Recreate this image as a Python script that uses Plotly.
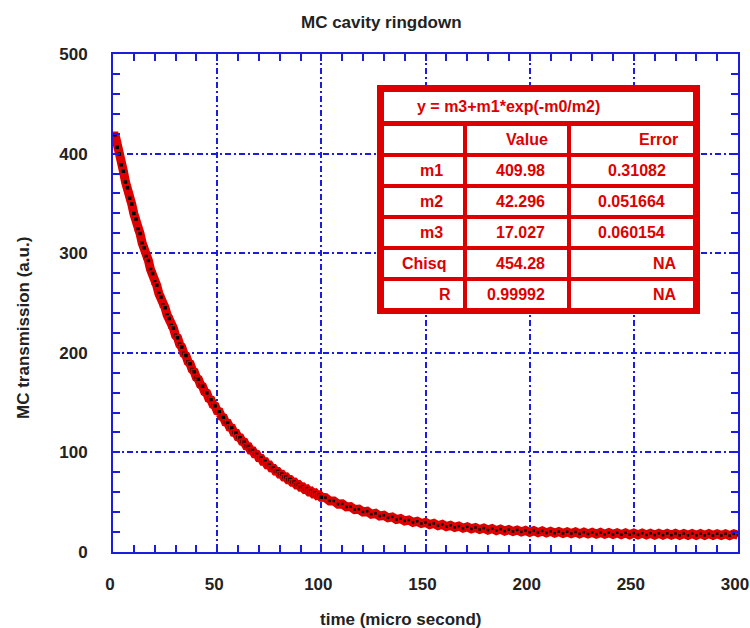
import plotly.graph_objects as go

# ---------------- data ----------------
time_us = list(range(1, 101)) + list(range(102, 301, 2))
signal = [
    418.9, 406.5, 399.6, 388.7, 382.4, 371.5, 365.8, 355.2, 349.3, 339.8,
    334.4, 324.6, 319.7, 310.2, 305.5, 296.8, 292.6, 283.7, 279.5, 271.4,
    267.8, 259.6, 256.0, 248.3, 245.2, 237.9, 234.5, 227.4, 224.7, 217.6,
    215.1, 208.5, 205.8, 199.3, 197.2, 191.0, 189.1, 183.2, 181.0, 175.1,
    173.5, 168.0, 166.3, 160.8, 159.6, 154.1, 152.9, 147.9, 146.7, 141.6,
    140.9, 136.0, 135.0, 130.3, 129.6, 125.2, 124.5, 120.0, 119.6, 115.4,
    114.8, 110.9, 110.3, 106.4, 106.0, 102.3, 101.9, 98.4, 98.0, 94.6,
    94.3, 91.0, 90.8, 87.5, 87.4, 84.3, 84.1, 81.1, 81.0, 78.2,
    78.1, 75.3, 75.4, 72.6, 72.7, 70.1, 70.2, 67.5, 67.8, 65.2,
    65.4, 62.9, 63.3, 60.7, 61.1, 58.7, 59.2, 56.8, 57.3, 54.9,
    54.6, 51.3, 51.2, 48.1, 48.3, 45.2, 45.6, 42.6, 43.0, 40.2,
    40.9, 38.0, 38.8, 36.1, 36.9, 34.3, 35.2, 32.6, 33.6, 31.2,
    32.1, 29.8, 30.9, 28.6, 29.8, 27.5, 28.7, 26.4, 27.7, 25.5,
    26.8, 24.7, 26.0, 23.9, 25.3, 23.2, 24.6, 22.6, 24.0, 22.0,
    23.5, 21.4, 23.0, 21.0, 22.5, 20.6, 22.1, 20.2, 21.7, 19.8,
    21.4, 19.5, 21.1, 19.2, 20.8, 18.9, 20.5, 18.7, 20.3, 18.5,
    20.1, 18.2, 19.9, 18.1, 19.7, 17.9, 19.6, 17.8, 19.4, 17.6,
    19.3, 17.5, 19.2, 17.3, 19.0, 17.2, 18.9, 17.1, 18.8, 17.0,
    18.7, 17.0, 18.7, 16.9, 18.6, 16.8, 18.5, 16.8, 18.5, 16.7,
    18.4, 16.7, 18.4, 16.6, 18.3, 16.6, 18.3, 16.5, 18.2, 16.8,
]

fit_formula = "y = m3+m1*exp(-m0/m2)"
table_header = ["", "Value", "Error"]
param_names = ["m1", "m2", "m3", "Chisq", "R"]
param_values = ["409.98", "42.296", "17.027", "454.28", "0.99992"]
param_errors = ["0.31082", "0.051664", "0.060154", "NA", "NA"]

title_text = "MC cavity ringdown"
x_title = "time (micro second)"
y_title = "MC transmission (a.u.)"
x_ticks = [0, 50, 100, 150, 200, 250, 300]
y_ticks = [0, 100, 200, 300, 400, 500]

# ---------------- style ----------------
W, H = 750, 628
L, R, T, B = 113, 12, 54, 76
PW, PH = W - L - R, H - T - B
BLUE = "#1c1ce0"
RED = "#dd0000"
FONT = "Liberation Sans"
N_STEEP = 100  # index split: densely sampled steep part vs. tail


def px(xp):
    return (xp - L) / PW


def py(yp):
    return (H - B - yp) / PH


fig = go.Figure()
fig.add_trace(go.Scatter(
    x=time_us, y=signal, mode="lines",
    line=dict(color=RED, width=9), hoverinfo="skip", showlegend=False))
fig.add_trace(go.Scatter(
    x=time_us[:N_STEEP], y=signal[:N_STEEP], mode="markers",
    marker=dict(symbol="square", size=5, color="black",
                line=dict(color=RED, width=1.5)),
    showlegend=False))
fig.add_trace(go.Scatter(
    x=time_us[N_STEEP:], y=signal[N_STEEP:], mode="markers",
    marker=dict(symbol="square", size=2.5, color="black", line=dict(width=0)),
    showlegend=False))

axis_common = dict(
    showline=True, linecolor=BLUE, linewidth=2, mirror="ticks",
    ticks="inside", ticklen=7, tickwidth=1.5, tickcolor=BLUE,
    showgrid=True, gridcolor=BLUE, gridwidth=1.5, griddash="6px,3px,2px,3px",
    zeroline=False, ticklabeloverflow="allow", automargin=False,
    tickfont=dict(family=FONT, size=17, color="#222222", weight="bold"),
)

fig.update_xaxes(range=[0, 300], tickvals=x_ticks, ticklabelstandoff=16,
                 ticklabelshift=-3,
                 minor=dict(dtick=10, ticks="inside", ticklen=7, tickcolor=BLUE,
                            tickwidth=1.5, showgrid=False),
                 **axis_common)
fig.update_yaxes(range=[0, 500], tickvals=y_ticks, ticklabelstandoff=20,
                 minor=dict(dtick=20, ticks="inside", ticklen=7, tickcolor=BLUE,
                            tickwidth=1.5, showgrid=False),
                 **axis_common)

shapes = []
annotations = []

# fit-result table
shapes.append(dict(type="rect", xref="paper", yref="paper",
                   x0=px(377), x1=px(700), y0=py(314), y1=py(85),
                   fillcolor=RED, line=dict(width=0), layer="above"))
shapes.append(dict(type="rect", xref="paper", yref="paper",
                   x0=px(384), x1=px(693), y0=py(121), y1=py(92),
                   fillcolor="white", line=dict(width=0), layer="above"))
col_edges = [(384, 463), (467, 567), (571, 693)]
row_tops = [126, 157, 188, 219, 250, 281]
row_h = 27
for rt in row_tops:
    for c0, c1 in col_edges:
        shapes.append(dict(type="rect", xref="paper", yref="paper",
                           x0=px(c0), x1=px(c1), y0=py(rt + row_h), y1=py(rt),
                           fillcolor="white", line=dict(width=0), layer="above"))

tfont = dict(family=FONT, size=16, color=RED, weight="bold")
annotations.append(dict(text=fit_formula, xref="paper", yref="paper",
                        x=px(415), y=py(106.5), xanchor="left", yanchor="middle",
                        showarrow=False, font=tfont))

header_right = [None, 550, 680]
name_right = [445, 445, 445, 448, 453]
val_right = [547, 547, 547, 547, 547]
err_right = [668, 667, 667, 679, 679]

for j, txt in enumerate(table_header):
    if txt:
        annotations.append(dict(text=txt, xref="paper", yref="paper",
                                x=px(header_right[j]), y=py(row_tops[0] + row_h / 2),
                                xanchor="right", yanchor="middle",
                                showarrow=False, font=tfont))
for i in range(len(param_names)):
    yc = py(row_tops[i + 1] + row_h / 2)
    for txt, xr in ((param_names[i], name_right[i]),
                    (param_values[i], val_right[i]),
                    (param_errors[i], err_right[i])):
        annotations.append(dict(text=txt, xref="paper", yref="paper",
                                x=px(xr), y=yc, xanchor="right", yanchor="middle",
                                showarrow=False, font=tfont))

# titles
lfont = dict(family=FONT, size=17, color="#222222", weight="bold")
annotations.append(dict(text=title_text, xref="paper", yref="paper",
                        x=px(381), y=py(22), xanchor="center", yanchor="middle",
                        showarrow=False, font=lfont))
annotations.append(dict(text=x_title, xref="paper", yref="paper",
                        x=px(401), y=py(619), xanchor="center", yanchor="middle",
                        showarrow=False, font=lfont))
annotations.append(dict(text=y_title, xref="paper", yref="paper",
                        x=px(23), y=py(328), xanchor="center", yanchor="middle",
                        textangle=-90, showarrow=False, font=lfont))

fig.update_layout(
    width=W, height=H,
    margin=dict(l=L, r=R, t=T, b=B, autoexpand=False),
    paper_bgcolor="white", plot_bgcolor="white",
    shapes=shapes, annotations=annotations,
    showlegend=False,
)

fig.write_html("out.html")
